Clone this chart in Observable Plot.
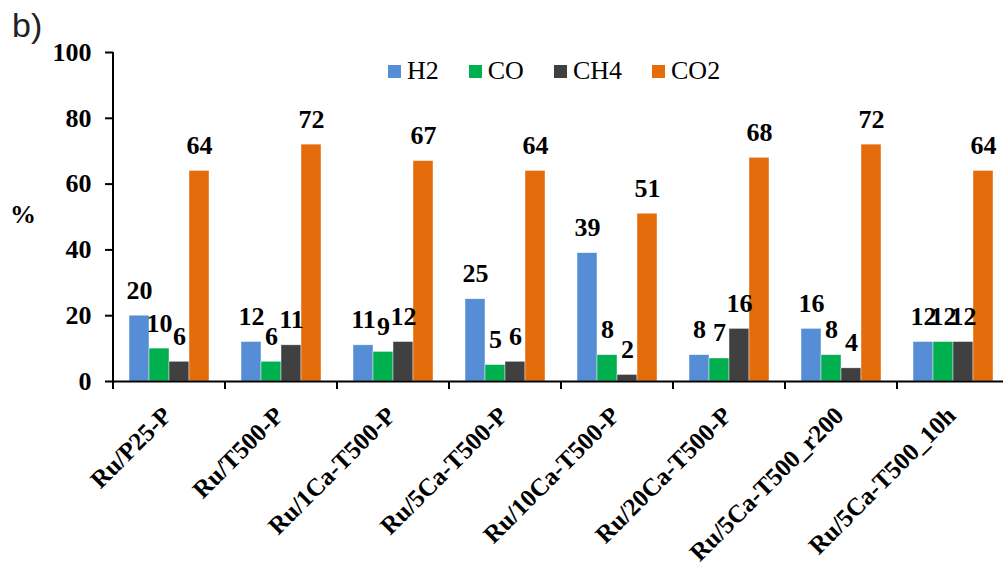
<!DOCTYPE html>
<html><head><meta charset="utf-8">
<script src="https://cdn.jsdelivr.net/npm/d3@7"></script>
<script src="https://cdn.jsdelivr.net/npm/@observablehq/plot@0.6"></script>
<style>
body{margin:0;background:#fff;overflow:hidden;}
#wrap{position:relative;width:1003px;height:570px;overflow:hidden;background:#fff;}
#wrap svg{max-width:none !important;}
#panel{position:absolute;left:12px;top:8px;font-family:"Liberation Sans",Arial,sans-serif;font-size:34px;color:#222;line-height:1;}
#ylab{position:absolute;left:10px;top:202px;font-family:"Liberation Serif","Times New Roman",serif;font-weight:bold;font-size:26px;color:#000;line-height:1;}
#legend{position:absolute;left:388px;top:58px;display:flex;align-items:center;font-family:"Liberation Serif","Times New Roman",serif;font-size:26px;color:#000;line-height:1;}
#legend .item{display:flex;align-items:center;margin-right:30px;}
#legend .sw{width:13px;height:13px;margin-right:6px;}
svg text{font-family:"Liberation Serif","Times New Roman",serif !important;}
</style></head><body><div id="wrap"></div>
<script>
const categories = ["Ru/P25-P","Ru/T500-P","Ru/1Ca-T500-P","Ru/5Ca-T500-P","Ru/10Ca-T500-P","Ru/20Ca-T500-P","Ru/5Ca-T500_r200","Ru/5Ca-T500_10h"];
const series = ["H2","CO","CH4","CO2"];
const h2Values  = [20,12,11,25,39, 8,16,12];
const coValues  = [10, 6, 9, 5, 8, 7, 8,12];
const ch4Values = [ 6,11,12, 6, 2,16, 4,12];
const co2Values = [64,72,67,64,51,68,72,64];
const seriesColors = ["#558ED5","#00B050","#404040","#E46C0A"];
const yTicks = [0,20,40,60,80,100];
const yLabel = "%";
const panelLabel = "b)";

const valueArrays = [h2Values, coValues, ch4Values, co2Values];
const rows = categories.flatMap((c, i) => valueArrays.map((arr, j) => ({cat: c, series: series[j], value: arr[i]})));

// the plot area runs slightly past the right edge of the picture, as in the reference
const W = 1012, H = 570;

const chart = Plot.plot({
  width: W, height: H,
  marginLeft: 110, marginRight: 0, marginTop: 52, marginBottom: 189,
  style: {fontFamily: '"Liberation Serif","Times New Roman",serif', fontSize: "26px", fontWeight: "bold", color: "#000", background: "#fff", overflow: "visible"},
  fx: {domain: categories, paddingInner: 0, paddingOuter: 0, label: null},
  x: {domain: series, paddingInner: 0, paddingOuter: 0.72, axis: null},
  y: {domain: [0, 100], label: null},
  color: {domain: series, range: seriesColors},
  marks: [
    Plot.barY(rows, {fx: "cat", x: "series", y: "value", fill: "series", stroke: "#fff", strokeWidth: 0.6, strokeOpacity: 0.7}),
    Plot.text(rows, {fx: "cat", x: "series", y: "value", text: d => String(d.value), lineAnchor: "bottom", dy: -17, fill: "#000", fontWeight: "bold", fontSize: 26}),
    Plot.ruleY([0], {stroke: "#000", strokeWidth: 2}),
    Plot.axisY({ticks: yTicks, tickSize: 8, tickPadding: 14, strokeWidth: 2, label: null, fontSize: 26, fontWeight: "bold"}),
    Plot.axisFx({anchor: "bottom", tickRotate: -45, tickSize: 0, tickPadding: 30, dx: -2, label: null, fontSize: 25, fontWeight: "bold"})
  ]
});

const wrap = document.getElementById("wrap");
wrap.appendChild(chart);

const fx = chart.scale("fx"), y = chart.scale("y");
const svg = d3.select(chart);
const y0 = y.apply(0), yTop = y.apply(100);
const xLeft = fx.apply(categories[0]);
svg.append("line").attr("x1", xLeft).attr("x2", xLeft).attr("y1", yTop).attr("y2", y0 + 1)
  .attr("stroke", "#000").attr("stroke-width", 2);
const bounds = categories.map(c => fx.apply(c)).concat([fx.apply(categories[categories.length - 1]) + fx.bandwidth]);
svg.selectAll("line.bt").data(bounds).enter().append("line").attr("class", "bt")
  .attr("x1", d => d).attr("x2", d => d).attr("y1", y0).attr("y2", y0 + 8)
  .attr("stroke", "#000").attr("stroke-width", 2);

const p = document.createElement("div"); p.id = "panel"; p.textContent = panelLabel; wrap.appendChild(p);
const yl = document.createElement("div"); yl.id = "ylab"; yl.textContent = yLabel; wrap.appendChild(yl);
const color = chart.scale("color");
const lg = document.createElement("div"); lg.id = "legend";
color.domain.forEach((s, i) => {
  const it = document.createElement("div"); it.className = "item";
  const sw = document.createElement("div"); sw.className = "sw"; sw.style.background = color.range[i];
  const t = document.createElement("span"); t.textContent = s;
  it.appendChild(sw); it.appendChild(t); lg.appendChild(it);
});
wrap.appendChild(lg);
</script></body></html>
